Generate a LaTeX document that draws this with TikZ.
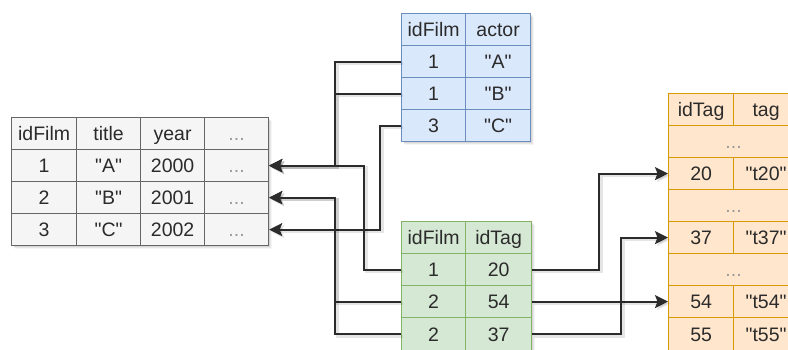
\documentclass[tikz,border=0pt]{standalone}
\usepackage{fontspec}
\setmainfont{Liberation Sans}
\usetikzlibrary{arrows.meta,calc}

\definecolor{filmfill}{HTML}{F5F5F5}
\definecolor{filmline}{HTML}{666666}
\definecolor{actfill}{HTML}{DAE8FC}
\definecolor{actline}{HTML}{6C8EBF}
\definecolor{linkfill}{HTML}{D5E8D4}
\definecolor{linkline}{HTML}{82B366}
\definecolor{tagfill}{HTML}{FFE6CC}
\definecolor{tagline}{HTML}{D79B00}
\definecolor{ink}{HTML}{2B2B2B}
\definecolor{dim}{HTML}{9A9A9A}

\tikzset{
  cell/.style={draw, line width=1.2pt, inner sep=0pt, anchor=north west,
    minimum height=32pt, text height=14pt, text depth=0pt,
    font=\fontsize{19.5}{21}\selectfont, text=ink},
  film/.style={cell, fill=filmfill, draw=filmline},
  actor/.style={cell, fill=actfill, draw=actline},
  link/.style={cell, fill=linkfill, draw=linkline},
  tagc/.style={cell, fill=tagfill, draw=tagline},
  dots/.style={text=dim},
  conn/.style={draw=ink, line width=2pt,
    preaction={draw=black, opacity=0.10, line width=3pt,
      transform canvas={shift={(2pt,-2pt)}}}},
  fkarrow/.style={conn, -{Stealth[length=13pt, width=13pt, inset=2.5pt]}},
}
% straight double quotes round a value
\newcommand{\qv}[1]{\textquotedbl#1\textquotedbl}
% soft shadow under a table: top-left and bottom-right corners
\newcommand{\tableshadow}[2]{%
  \foreach \d/\o in {1/0.08,2/0.07,3/0.06,4/0.04}{%
    \fill[black, opacity=\o] ($#1+(\d,\d)$) rectangle ($#2+(\d,\d)$);}}

\begin{document}
\begin{tikzpicture}[x=1pt, y=-1pt]
  \useasboundingbox (0,0) rectangle (788,349);
  \clip (0,0) rectangle (788,349);

  % shadows
  \tableshadow{(11,117)}{(268,245)}
  \tableshadow{(401,13)}{(530,141)}
  \tableshadow{(401,221)}{(531,350)}
  \tableshadow{(668,93)}{(798,350)}

  % film table
  \node[film, minimum width=65pt] (f0a) at (11,117) {idFilm};
  \node[film, minimum width=64pt] (f0b) at (76,117) {title};
  \node[film, minimum width=64pt] (f0c) at (140,117) {year};
  \node[film, dots, minimum width=64pt] (f0d) at (204,117) {...};
  \node[film, minimum width=65pt] (f1a) at (11,149) {1};
  \node[film, minimum width=64pt] (f1b) at (76,149) {\qv{A}};
  \node[film, minimum width=64pt] (f1c) at (140,149) {2000};
  \node[film, dots, minimum width=64pt] (f1d) at (204,149) {...};
  \node[film, minimum width=65pt] (f2a) at (11,181) {2};
  \node[film, minimum width=64pt] (f2b) at (76,181) {\qv{B}};
  \node[film, minimum width=64pt] (f2c) at (140,181) {2001};
  \node[film, dots, minimum width=64pt] (f2d) at (204,181) {...};
  \node[film, minimum width=65pt] (f3a) at (11,213) {3};
  \node[film, minimum width=64pt] (f3b) at (76,213) {\qv{C}};
  \node[film, minimum width=64pt] (f3c) at (140,213) {2002};
  \node[film, dots, minimum width=64pt] (f3d) at (204,213) {...};

  % actor table
  \node[actor, minimum width=64pt] (a0a) at (401,13) {idFilm};
  \node[actor, minimum width=65pt] (a0b) at (465,13) {actor};
  \node[actor, minimum width=64pt] (a1a) at (401,45) {1};
  \node[actor, minimum width=65pt] (a1b) at (465,45) {\qv{A}};
  \node[actor, minimum width=64pt] (a2a) at (401,77) {1};
  \node[actor, minimum width=65pt] (a2b) at (465,77) {\qv{B}};
  \node[actor, minimum width=64pt] (a3a) at (401,109) {3};
  \node[actor, minimum width=65pt] (a3b) at (465,109) {\qv{C}};

  % film-tag table
  \node[link, minimum width=64pt] (l0a) at (401,221) {idFilm};
  \node[link, minimum width=66pt] (l0b) at (465,221) {idTag};
  \node[link, minimum width=64pt] (l1a) at (401,253) {1};
  \node[link, minimum width=66pt] (l1b) at (465,253) {20};
  \node[link, minimum width=64pt] (l2a) at (401,285) {2};
  \node[link, minimum width=66pt] (l2b) at (465,285) {54};
  \node[link, minimum width=64pt, minimum height=33pt] (l3a) at (401,317) {2};
  \node[link, minimum width=66pt, minimum height=33pt] (l3b) at (465,317) {37};

  % tag table
  \node[tagc, minimum width=65pt] (t0a) at (668,93) {idTag};
  \node[tagc, minimum width=65pt] (t0b) at (733,93) {tag};
  \node[tagc, dots, minimum width=130pt] (tg1) at (668,125) {...};
  \node[tagc, minimum width=65pt] (t20a) at (668,157) {20};
  \node[tagc, minimum width=65pt] (t20b) at (733,157) {\qv{t20}};
  \node[tagc, dots, minimum width=130pt] (tg2) at (668,189) {...};
  \node[tagc, minimum width=65pt] (t37a) at (668,221) {37};
  \node[tagc, minimum width=65pt] (t37b) at (733,221) {\qv{t37}};
  \node[tagc, dots, minimum width=130pt] (tg3) at (668,253) {...};
  \node[tagc, minimum width=65pt] (t54a) at (668,285) {54};
  \node[tagc, minimum width=65pt] (t54b) at (733,285) {\qv{t54}};
  \node[tagc, minimum width=65pt, minimum height=33pt] (t55a) at (668,317) {55};
  \node[tagc, minimum width=65pt, minimum height=33pt] (t55b) at (733,317) {\qv{t55}};

  % vertical routing lanes
  \coordinate (laneA) at (335,0);
  \coordinate (laneB) at (364,0);
  \coordinate (laneC) at (380,0);
  \coordinate (laneD) at (599,0);
  \coordinate (laneE) at (621,0);

  % foreign keys to the film table
  \draw[fkarrow] (a1a.west) -| (laneA |- f1d.east) -- (f1d.east);
  \draw[fkarrow] (a2a.west) -| (laneA |- f1d.east) -- (f1d.east);
  \draw[fkarrow] (a3a.west) -| (laneC |- f3d.east) -- (f3d.east);
  \draw[fkarrow] (l1a.west) -| (laneB |- f1d.east) -- (f1d.east);
  \draw[fkarrow] (l2a.west) -| (laneA |- f2d.east) -- (f2d.east);
  \draw[fkarrow] (l3a.west) -| (laneA |- f2d.east) -- (f2d.east);

  % foreign keys to the tag table
  \draw[fkarrow] (l1b.east) -| (laneD |- t20a.west) -- (t20a.west);
  \draw[fkarrow] (l2b.east) -- (t54a.west);
  \draw[fkarrow] (l3b.east) -| (laneE |- t37a.west) -- (t37a.west);
\end{tikzpicture}
\end{document}
